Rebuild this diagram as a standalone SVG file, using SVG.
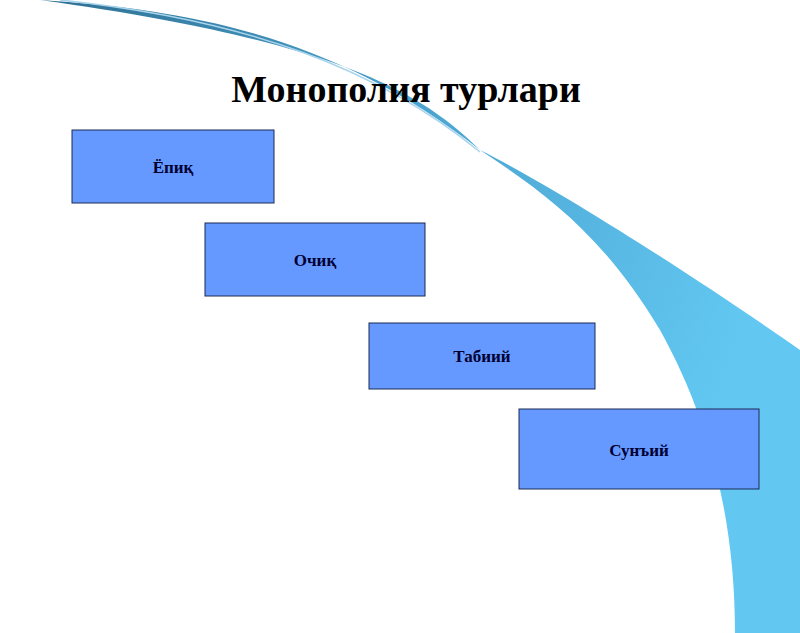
<svg xmlns="http://www.w3.org/2000/svg" width="800" height="633" viewBox="0 0 800 633">
<defs>
<linearGradient id="sw" x1="0" y1="0" x2="1" y2="0.3">
<stop offset="0" stop-color="#2f6f92"/>
<stop offset="0.5" stop-color="#4aa3cf"/>
<stop offset="1" stop-color="#62c8f2"/>
</linearGradient>
<style>
.box{fill:#6699ff;stroke:#1a2a55;stroke-width:1}
.lbl{font-family:"Liberation Serif",serif;font-weight:bold;font-size:17px;fill:#000033;text-anchor:middle}
</style>
</defs>
<rect width="800" height="633" fill="#fff"/>
<path d="M40,0 C200,10 340,40 480,150 C560,190 700,280 800,350 L800,633 L735,633 C735,520 710,420 660,330 C600,230 540,190 480,150 C420,90 330,40 40,0 Z" fill="url(#sw)"/>
<path d="M60,0 C250,20 380,70 480,152" fill="none" stroke="#a8d4ec" stroke-width="1.5"/>
<text x="406" y="102" font-family="Liberation Serif,serif" font-weight="bold" font-size="38" text-anchor="middle" fill="#000">Монополия турлари</text>
<g id="n1"><rect class="box" x="72" y="130" width="202" height="73"/><text class="lbl" x="173" y="173">Ёпиқ</text></g>
<g id="n2"><rect class="box" x="205" y="223" width="220" height="73"/><text class="lbl" x="315" y="266">Очиқ</text></g>
<g id="n3"><rect class="box" x="369" y="323" width="226" height="66"/><text class="lbl" x="482" y="362">Табиий</text></g>
<g id="n4"><rect class="box" x="519" y="409" width="240" height="80"/><text class="lbl" x="639" y="456">Сунъий</text></g>
<g id="connectors"/>
</svg>
